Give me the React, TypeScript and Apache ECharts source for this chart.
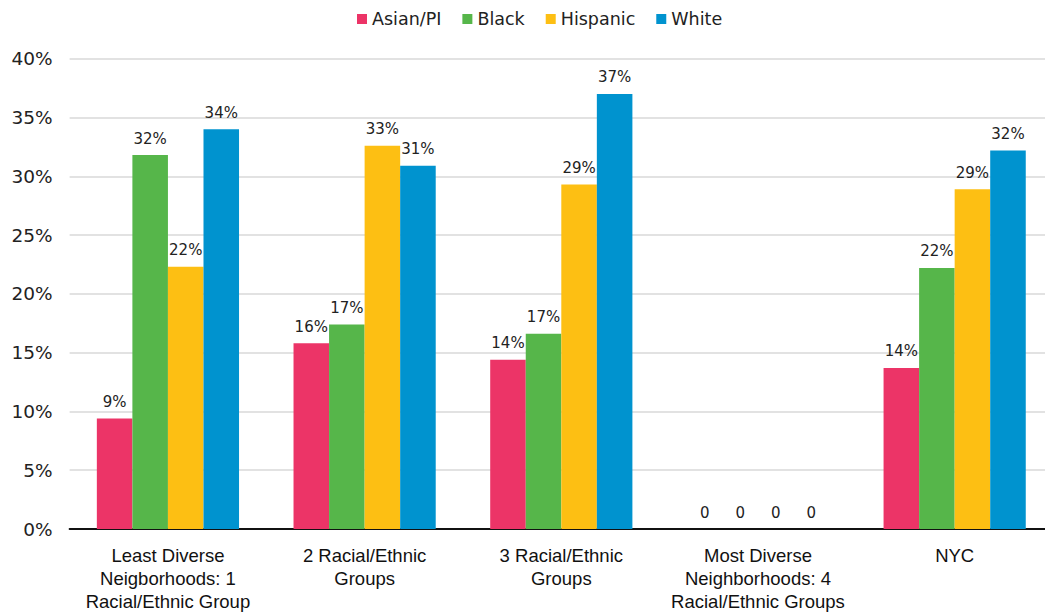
import React, { useEffect, useRef } from "react";
import * as echarts from "echarts";

const categories = [
  "Least Diverse\nNeigborhoods: 1\nRacial/Ethnic Group",
  "2 Racial/Ethnic\nGroups",
  "3 Racial/Ethnic\nGroups",
  "Most Diverse\nNeighborhoods: 4\nRacial/Ethnic Groups",
  "NYC",
];
const seriesNames = ["Asian/PI", "Black", "Hispanic", "White"];
const asianPI = [9.4, 15.8, 14.4, 0, 13.7];
const black = [31.8, 17.4, 16.6, 0, 22.2];
const hispanic = [22.3, 32.6, 29.3, 0, 28.9];
const white = [34.0, 30.9, 37.0, 0, 32.2];
const colors = ["#EC3467", "#56B64A", "#FDBF13", "#0093CF"];
const yTicks = { min: 0, max: 40, interval: 5 };

export default function App() {
  const ref = useRef<HTMLDivElement>(null);
  useEffect(() => {
    if (!ref.current) return;
    const chart = echarts.init(ref.current, undefined, { renderer: "svg" });
    const values = [asianPI, black, hispanic, white];
    const labelFont = "'DejaVu Sans', sans-serif";
    chart.setOption({
      animation: false,
      color: colors,
      legend: {
        top: 5,
        left: 352,
        itemWidth: 10,
        itemHeight: 10,
        itemGap: 21,
        icon: "rect",
        textStyle: { fontFamily: labelFont, fontSize: 17.5, color: "#222" },
        data: seriesNames,
      },
      grid: { left: 69.6, right: 7, top: 58.7, bottom: 82.3, containLabel: false },
      xAxis: {
        type: "category",
        data: categories,
        axisLine: { lineStyle: { color: "#111", width: 2 } },
        axisTick: { show: false },
        axisLabel: {
          interval: 0,
          margin: 15,
          fontFamily: "'Liberation Sans', sans-serif",
          fontSize: 18.5,
          lineHeight: 23,
          color: "#111",
        },
      },
      yAxis: {
        type: "value",
        min: yTicks.min,
        max: yTicks.max,
        interval: yTicks.interval,
        axisLine: { show: false },
        axisTick: { show: false },
        axisLabel: {
          formatter: "{value}%",
          margin: 17,
          fontFamily: labelFont,
          fontSize: 18.5,
          color: "#222",
        },
        splitLine: { lineStyle: { color: "#d9d9d9", width: 1.5 } },
      },
      series: seriesNames.map((name, i) => ({
        name,
        type: "bar",
        data: values[i],
        barGap: "0%",
        barCategoryGap: "27.7%",
        label: {
          show: true,
          position: "top",
          distance: 9,
          fontFamily: labelFont,
          fontSize: 15,
          color: "#222",
          formatter: (p: any) => (p.value === 0 ? "0" : Math.round(p.value) + "%"),
        },
      })),
    });
    return () => chart.dispose();
  }, []);
  return (
    <div style={{ position: "fixed", left: 0, top: 0, width: 1045, height: 613, overflow: "hidden", background: "#fff" }}>
      <div ref={ref} style={{ width: 1060, height: 613 }} />
    </div>
  );
}
